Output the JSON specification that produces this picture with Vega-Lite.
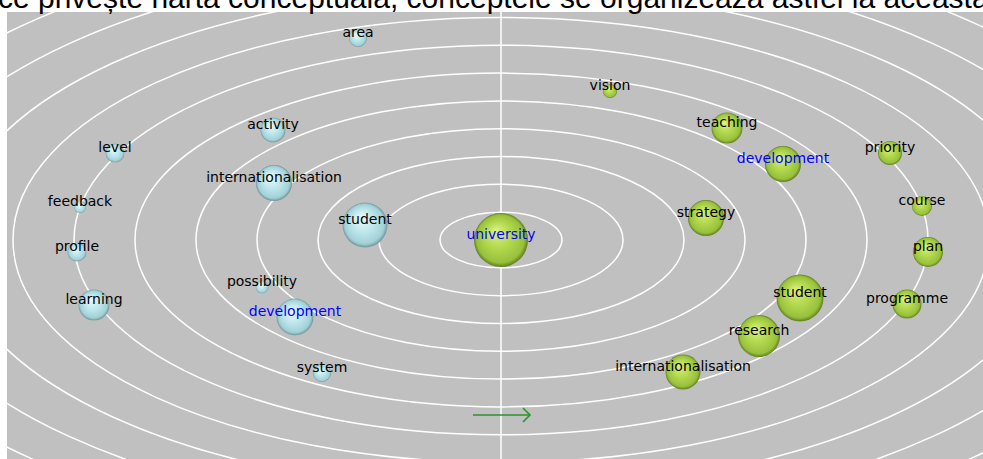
{
  "$schema": "https://vega.github.io/schema/vega-lite/v6.json",
  "width": 976,
  "height": 447,
  "autosize": {"type": "none"},
  "padding": {"left": 7, "top": 12, "right": 0, "bottom": 0},
  "background": "white",
  "config": {"view": {"fill": "#C0C0C0", "stroke": null}},
  "datasets": {
    "caption": [
      {"caption": "ce privește harta conceptuală, conceptele se organizează astfel la această e", "x": -503, "y": 232}
    ],
    "rings": [
      {"ring": 1}, {"ring": 2}, {"ring": 3}, {"ring": 4}, {"ring": 5}, {"ring": 6},
      {"ring": 7}, {"ring": 8}, {"ring": 9}, {"ring": 10}, {"ring": 11}
    ],
    "terms": [
      {"term": "area", "side": "L", "hub": false, "x": -143, "y": 202, "weight": 9},
      {"term": "activity", "side": "L", "hub": false, "x": -228, "y": 110, "weight": 12.5},
      {"term": "level", "side": "L", "hub": false, "x": -386, "y": 87, "weight": 9.5},
      {"term": "internationalisation", "side": "L", "hub": false, "x": -227, "y": 57, "weight": 18},
      {"term": "feedback", "side": "L", "hub": false, "x": -421, "y": 33, "weight": 6},
      {"term": "student", "side": "L", "hub": false, "x": -136, "y": 15, "weight": 22.5},
      {"term": "profile", "side": "L", "hub": false, "x": -424, "y": -12, "weight": 9.5},
      {"term": "learning", "side": "L", "hub": false, "x": -407, "y": -65, "weight": 15.5},
      {"term": "possibility", "side": "L", "hub": false, "x": -239, "y": -47, "weight": 6.5},
      {"term": "development", "side": "L", "hub": true, "x": -206, "y": -77, "weight": 18.5},
      {"term": "system", "side": "L", "hub": false, "x": -179, "y": -133, "weight": 9},
      {"term": "university", "side": "R", "hub": true, "x": 0, "y": 0, "weight": 27},
      {"term": "vision", "side": "R", "hub": false, "x": 109, "y": 149, "weight": 7},
      {"term": "teaching", "side": "R", "hub": false, "x": 226, "y": 112, "weight": 15.5},
      {"term": "development", "side": "R", "hub": true, "x": 282, "y": 76, "weight": 18},
      {"term": "priority", "side": "R", "hub": false, "x": 389, "y": 87, "weight": 12},
      {"term": "course", "side": "R", "hub": false, "x": 421, "y": 34, "weight": 10},
      {"term": "strategy", "side": "R", "hub": false, "x": 205, "y": 22, "weight": 18},
      {"term": "plan", "side": "R", "hub": false, "x": 427, "y": -12, "weight": 15},
      {"term": "student", "side": "R", "hub": false, "x": 299, "y": -58, "weight": 23.5},
      {"term": "programme", "side": "R", "hub": false, "x": 406, "y": -64, "weight": 14.5},
      {"term": "research", "side": "R", "hub": false, "x": 258, "y": -96, "weight": 21},
      {"term": "internationalisation", "side": "R", "hub": false, "x": 182, "y": -132, "weight": 17.5}
    ]
  },
  "layer": [
    {
      "data": {"name": "rings"},
      "mark": {
        "type": "point",
        "shape": "M 1 0 C 1 0.2518 0.5523 0.456 0 0.456 C -0.5523 0.456 -1 0.2518 -1 0 C -1 -0.2518 -0.5523 -0.456 0 -0.456 C 0.5523 -0.456 1 -0.2518 1 0 Z",
        "filled": false,
        "stroke": "white",
        "strokeWidth": 1.5,
        "opacity": 1,
        "clip": true
      },
      "encoding": {
        "x": {"datum": 0, "type": "quantitative", "scale": {"domain": [-494, 482], "nice": false, "zero": false}, "axis": null},
        "y": {"datum": 0, "type": "quantitative", "scale": {"domain": [-219, 228], "nice": false, "zero": false}, "axis": null},
        "size": {"field": "ring", "type": "quantitative", "scale": {"type": "pow", "exponent": 2, "domain": [0, 11], "range": [0, 1800964]}, "legend": null}
      }
    },
    {
      "data": {"values": [{}]},
      "mark": {"type": "rule", "color": "white", "strokeWidth": 1.5},
      "encoding": {
        "x": {"datum": 0, "type": "quantitative"}
      }
    },
    {
      "data": {"values": [{}]},
      "mark": {"type": "rule", "color": "#2A952A", "strokeWidth": 1.6},
      "encoding": {
        "x": {"datum": -28, "type": "quantitative"},
        "x2": {"datum": 29},
        "y": {"datum": -175, "type": "quantitative"}
      }
    },
    {
      "data": {"values": [{}]},
      "mark": {"type": "point", "shape": "M -1 -1 L 0 0 L -1 1", "filled": false, "stroke": "#2A952A", "strokeWidth": 1.6, "opacity": 1, "size": 196},
      "encoding": {
        "x": {"datum": 29, "type": "quantitative"},
        "y": {"datum": -175, "type": "quantitative"}
      }
    },
    {
      "data": {"name": "terms"},
      "transform": [{"filter": "datum.side === 'L'"}],
      "mark": {
        "type": "point",
        "shape": "circle",
        "filled": true,
        "opacity": 1,
        "fill": {
          "gradient": "radial",
          "x1": 0.4, "y1": 0.32, "r1": 0,
          "x2": 0.5, "y2": 0.5, "r2": 0.5,
          "stops": [
            {"offset": 0, "color": "#EEFBFC"},
            {"offset": 0.5, "color": "#BDE7EC"},
            {"offset": 0.88, "color": "#A2D0D6"},
            {"offset": 1, "color": "#6E9499"}
          ]
        }
      },
      "encoding": {
        "x": {"field": "x", "type": "quantitative"},
        "y": {"field": "y", "type": "quantitative"},
        "size": {"field": "weight", "type": "quantitative", "scale": {"type": "pow", "exponent": 2, "domain": [0, 30], "range": [0, 3600]}, "legend": null}
      }
    },
    {
      "data": {"name": "terms"},
      "transform": [{"filter": "datum.side === 'R'"}],
      "mark": {
        "type": "point",
        "shape": "circle",
        "filled": true,
        "opacity": 1,
        "fill": {
          "gradient": "radial",
          "x1": 0.4, "y1": 0.32, "r1": 0,
          "x2": 0.5, "y2": 0.5, "r2": 0.5,
          "stops": [
            {"offset": 0, "color": "#DDF285"},
            {"offset": 0.5, "color": "#B2D84E"},
            {"offset": 0.88, "color": "#98C03C"},
            {"offset": 1, "color": "#5E7E1E"}
          ]
        }
      },
      "encoding": {
        "x": {"field": "x", "type": "quantitative"},
        "y": {"field": "y", "type": "quantitative"},
        "size": {"field": "weight", "type": "quantitative", "scale": {"type": "pow", "exponent": 2, "domain": [0, 30], "range": [0, 3600]}, "legend": null}
      }
    },
    {
      "data": {"name": "terms"},
      "mark": {"type": "text", "font": "DejaVu Sans", "fontSize": 14, "dy": -5, "baseline": "middle", "align": "center"},
      "encoding": {
        "x": {"field": "x", "type": "quantitative"},
        "y": {"field": "y", "type": "quantitative"},
        "text": {"field": "term"},
        "color": {"condition": {"test": "datum.hub", "value": "#0000FF"}, "value": "#000000"}
      }
    },
    {
      "data": {"name": "caption"},
      "mark": {"type": "text", "font": "Liberation Sans", "fontSize": 30, "align": "left", "baseline": "alphabetic", "color": "black", "clip": false},
      "encoding": {
        "x": {"field": "x", "type": "quantitative"},
        "y": {"field": "y", "type": "quantitative"},
        "text": {"field": "caption"}
      }
    }
  ],
  "resolve": {"scale": {"size": "independent"}}
}
